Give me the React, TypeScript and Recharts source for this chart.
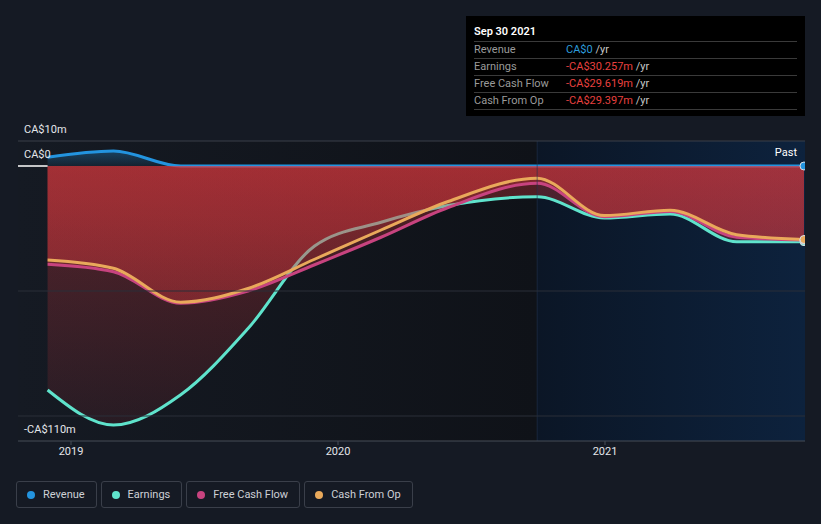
import {
  ComposedChart,
  Area,
  XAxis,
  YAxis,
  ReferenceArea,
  ReferenceLine,
} from 'recharts';

// period ends (trailing twelve months), values in CA$ millions
const periodEnds = [
  '2018-11-30', '2019-02-28', '2019-05-31', '2019-08-31', '2019-11-30', '2020-02-29',
  '2020-05-31', '2020-09-30', '2020-12-31', '2021-03-31', '2021-06-30', '2021-09-30',
];
const revenue = [3.5, 6, 0, 0, 0, 0, 0, 0, 0, 0, 0, 0];
const earnings = [-89.6, -103.6, -91.5, -65, -32, -22.5, -15.8, -12.3, -20.8, -19.2, -30.3, -30.257];
const freeCashFlow = [-39.3, -42.3, -54.9, -50, -39.5, -28.5, -16.6, -6.9, -20.3, -18.2, -28.5, -29.619];
const cashFromOp = [-37.6, -40.9, -54.5, -49, -37.3, -25.6, -14.2, -4.9, -19.8, -17.7, -27.5, -29.397];

const yTicks = [10, 0, -110];
const xTicks = [2019, 2020, 2021];
const xDomain: [number, number] = [2018.8015, 2021.749];
const pastStart = '2020-09-30';

const COLORS = {
  revenue: '#2394df',
  earnings: '#5fe3cc',
  fcf: '#c7437f',
  cfo: '#e9a95b',
};

function toYear(iso: string) {
  const d = new Date(iso + 'T00:00:00Z');
  const y = d.getUTCFullYear();
  const start = Date.UTC(y, 0, 1);
  const end = Date.UTC(y + 1, 0, 1);
  return y + (d.getTime() - start) / (end - start);
}

const data = periodEnds.map((p, i) => ({
  t: toYear(p),
  revenue: revenue[i],
  earnings: earnings[i],
  fcf: freeCashFlow[i],
  cfo: cashFromOp[i],
}));

const last = data.length - 1;

function fmtAxis(v: number) {
  if (v === 0) return 'CA$0';
  return (v < 0 ? '-' : '') + 'CA$' + Math.abs(v) + 'm';
}

function fmtTip(v: number) {
  if (v === 0) return 'CA$0';
  return (v < 0 ? '-' : '') + 'CA$' + Math.abs(v).toFixed(3) + 'm';
}

function YTick(props: any) {
  const { y, payload } = props;
  return (
    <text x={24} y={y - 8} fill="#e4e6ea" fontSize={11} fontFamily="Roboto, sans-serif" textAnchor="start">
      {fmtAxis(payload.value)}
    </text>
  );
}

function endDot(color: string) {
  return (p: any) =>
    p.index === last ? (
      <circle key={p.index} cx={p.cx} cy={p.cy} r={4} fill={color} stroke="#d8dde4" strokeWidth={1} />
    ) : (
      <g key={p.index} />
    );
}

const legendItems = [
  { name: 'Revenue', color: COLORS.revenue },
  { name: 'Earnings', color: COLORS.earnings },
  { name: 'Free Cash Flow', color: COLORS.fcf },
  { name: 'Cash From Op', color: COLORS.cfo },
];

const tipRows = [
  { name: 'Revenue', value: revenue[last] },
  { name: 'Earnings', value: earnings[last] },
  { name: 'Free Cash Flow', value: freeCashFlow[last] },
  { name: 'Cash From Op', value: cashFromOp[last] },
];

export default function App() {
  const font = 'Roboto, sans-serif';
  return (
    <div style={{ position: 'relative', width: 821, height: 524, background: '#151a24', fontFamily: font }}>
      <style>{'body{margin:0;background:#151a24}'}</style>
      <ComposedChart
        width={821}
        height={524}
        data={data}
        margin={{ top: 141, right: 16, left: 18, bottom: 53 }}
      >
        <defs>
          <linearGradient id="pastBg" x1="0" y1="0" x2="1" y2="0">
            <stop offset="0%" stopColor="#151a23" />
            <stop offset="100%" stopColor="#0f1218" />
          </linearGradient>
          <linearGradient id="recentBg" x1="0" y1="0" x2="1" y2="0">
            <stop offset="0%" stopColor="#0b1626" />
            <stop offset="100%" stopColor="#0d223d" />
          </linearGradient>
          <linearGradient id="negFill" gradientUnits="userSpaceOnUse" x1="0" y1="166" x2="0" y2="441">
            <stop offset="0%" stopColor="#e0393e" stopOpacity={0.33} />
            <stop offset="100%" stopColor="#e0393e" stopOpacity={0.08} />
          </linearGradient>
          <linearGradient id="revFill" gradientUnits="userSpaceOnUse" x1="0" y1="150" x2="0" y2="166">
            <stop offset="0%" stopColor="#2394df" stopOpacity={0.35} />
            <stop offset="100%" stopColor="#2394df" stopOpacity={0.08} />
          </linearGradient>
        </defs>
        <ReferenceArea x1={xDomain[0]} x2={toYear(pastStart)} y1={-110} y2={10} fill="url(#pastBg)" fillOpacity={1} stroke="none" />
        <ReferenceArea x1={toYear(pastStart)} x2={xDomain[1]} y1={-110} y2={10} fill="url(#recentBg)" fillOpacity={1} stroke="none" />
        <ReferenceLine x={toYear(pastStart)} stroke="#22324d" strokeOpacity={0.6} strokeWidth={1} />
        <ReferenceLine y={10} stroke="#3b3f49" strokeWidth={1} />
        <ReferenceLine y={-50} stroke="#2b2f38" strokeWidth={1} />
        <ReferenceLine y={-100} stroke="#2b2f38" strokeWidth={1} />
        <ReferenceLine
          segment={[{ x: xDomain[0], y: 0 }, { x: data[0].t, y: 0 }]}
          stroke="#ffffff"
          strokeWidth={1.5}
        />
        <XAxis
          type="number"
          dataKey="t"
          domain={xDomain}
          ticks={xTicks}
          allowDataOverflow
          height={30}
          tickFormatter={(v) => String(Math.round(v))}
          tick={{ fill: '#e4e6ea', fontSize: 11, fontFamily: font }}
          axisLine={{ stroke: '#474c57' }}
          tickLine={{ stroke: '#474c57' }}
          tickSize={4}
        />
        <YAxis
          type="number"
          domain={[-110, 10]}
          ticks={yTicks}
          width={60}
          mirror
          axisLine={false}
          tickLine={false}
          tick={(p: any) => <YTick {...p} />}
        />
        <Area
          type="monotone"
          dataKey="revenue"
          baseValue={0}
          stroke={COLORS.revenue}
          strokeWidth={3}
          fill="url(#revFill)"
          fillOpacity={1}
          dot={endDot(COLORS.revenue)}
          activeDot={false}
          isAnimationActive={false}
        />
        <Area
          type="monotone"
          dataKey="earnings"
          baseValue={0}
          stroke={COLORS.earnings}
          strokeWidth={3}
          fill="url(#negFill)"
          fillOpacity={1}
          dot={endDot(COLORS.earnings)}
          activeDot={false}
          isAnimationActive={false}
        />
        <Area
          type="monotone"
          dataKey="fcf"
          baseValue={0}
          stroke={COLORS.fcf}
          strokeWidth={3}
          fill="url(#negFill)"
          fillOpacity={1}
          dot={endDot(COLORS.fcf)}
          activeDot={false}
          isAnimationActive={false}
        />
        <Area
          type="monotone"
          dataKey="cfo"
          baseValue={0}
          stroke={COLORS.cfo}
          strokeWidth={3}
          fill="url(#negFill)"
          fillOpacity={1}
          dot={endDot(COLORS.cfo)}
          activeDot={false}
          isAnimationActive={false}
        />
      </ComposedChart>

      <div style={{ position: 'absolute', left: 760, top: 146, width: 37, textAlign: 'right', color: '#ffffff', fontSize: 11 }}>
        Past
      </div>

      <div
        style={{
          position: 'absolute',
          left: 466,
          top: 16,
          width: 339,
          height: 100,
          background: '#000000',
          boxSizing: 'border-box',
          padding: '0 8px',
        }}
      >
        <div style={{ color: '#ffffff', fontSize: 11, fontWeight: 600, height: 25, lineHeight: '31px' }}>
          Sep 30 2021
        </div>
        {tipRows.map((r) => (
          <div
            key={r.name}
            style={{
              display: 'flex',
              height: 16,
              lineHeight: '16px',
              borderTop: '1px solid #3a3a3a',
              fontSize: 11,
            }}
          >
            <span style={{ width: 92, color: '#9a9a9a' }}>{r.name}</span>
            <span style={{ color: r.value === 0 ? '#2d9cdb' : '#e8403f' }}>{fmtTip(r.value)}</span>
            <span style={{ color: '#c8c8c8' }}>&nbsp;/yr</span>
          </div>
        ))}
        <div style={{ borderTop: '1px solid #3a3a3a' }} />
      </div>

      <div style={{ position: 'absolute', left: 16, top: 481, display: 'flex', gap: 4 }}>
        {legendItems.map((l) => (
          <div
            key={l.name}
            style={{
              display: 'flex',
              alignItems: 'center',
              height: 27,
              boxSizing: 'border-box',
              border: '1px solid #3a3f4a',
              borderRadius: 3,
              padding: '0 11px 0 10px',
              color: '#cdd0d6',
              fontSize: 11,
            }}
          >
            <span style={{ width: 8, height: 8, borderRadius: 4, background: l.color, marginRight: 8 }} />
            {l.name}
          </div>
        ))}
      </div>
    </div>
  );
}
